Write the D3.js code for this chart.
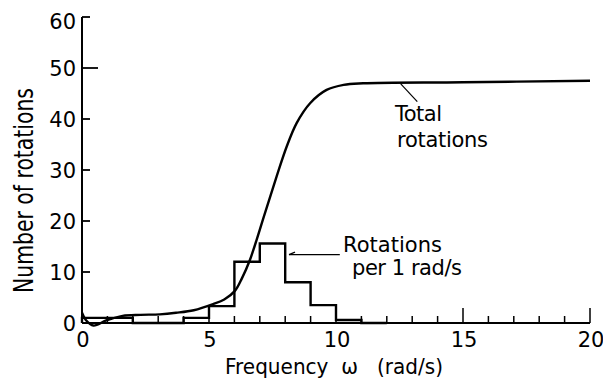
<!DOCTYPE html>
<html>
<head>
<meta charset="utf-8">
<script src="https://cdn.jsdelivr.net/npm/d3@7"></script>
<style>
  body { margin: 0; background: #fff; }
  text { font-family: "DejaVu Sans", sans-serif; fill: #000; }
</style>
</head>
<body>
<svg id="chart" width="603" height="380"></svg>
<script>
// histogram: rotations per 1 rad/s bin (bin start, count)
const binStarts = [0, 1, 2, 3, 4, 5, 6, 7, 8, 9, 10, 11];
const binCounts = [1, 1, 0, 0, 1, 3.3, 12, 15.6, 8, 3.5, 0.6, 0];

// cumulative curve
const curveW = [0, 0.15, 0.45, 0.95, 1.6, 2.3, 3.06, 3.7, 4.4, 5.16, 5.6, 6.02, 6.3, 6.61, 7.2, 7.66, 8.06, 8.45, 8.98, 9.63, 10.3, 11.07, 15, 20];
const curveN = [2.0, 0.6, -0.5, 0.5, 1.4, 1.6, 1.7, 2.0, 2.5, 3.7, 4.6, 6.3, 8.8, 12.35, 21.5, 28.7, 34.6, 39.2, 43.1, 45.7, 46.7, 47.0, 47.2, 47.5];

const xTickLabels = [0, 5, 10, 15, 20];
const yTickLabels = [0, 10, 20, 30, 40, 50, 60];

const svg = d3.select('#chart');

const x = d3.scaleLinear().domain([0, 20]).range([82, 590]);
const y = d3.scaleLinear().domain([0, 60]).range([323, 17]);

const g = svg.append('g');

// axes lines
g.append('line')
  .attr('x1', x(0)).attr('x2', x(0))
  .attr('y1', y(0)).attr('y2', y(60))
  .attr('stroke', '#000').attr('stroke-width', 2);
g.append('line')
  .attr('x1', x(0)).attr('x2', x(20))
  .attr('y1', y(0)).attr('y2', y(0))
  .attr('stroke', '#000').attr('stroke-width', 2);

// x ticks every 1 rad/s, longer at labels
g.selectAll('.xtick')
  .data(d3.range(1, 21))
  .enter().append('line')
  .attr('x1', d => x(d)).attr('x2', d => x(d))
  .attr('y1', y(0))
  .attr('y2', d => y(0) - (d % 5 === 0 ? 15 : 7))
  .attr('stroke', '#000').attr('stroke-width', 1.5);

// y ticks, inward
g.selectAll('.ytick')
  .data(yTickLabels.slice(1))
  .enter().append('line')
  .attr('x1', x(0))
  .attr('x2', d => x(0) + (d === 50 ? 16 : 8))
  .attr('y1', d => y(d)).attr('y2', d => y(d))
  .attr('stroke', '#000').attr('stroke-width', 1.8);

// tick labels
g.selectAll('.xlab')
  .data(xTickLabels)
  .enter().append('text')
  .attr('x', d => x(d) + 1)
  .attr('y', 347)
  .attr('text-anchor', 'middle')
  .attr('font-size', 21)
  .text(d => d);

g.selectAll('.ylab')
  .data(yTickLabels)
  .enter().append('text')
  .attr('x', 76)
  .attr('y', d => y(d) + (d === 60 ? 12 : 8))
  .attr('text-anchor', 'end')
  .attr('font-size', 21)
  .text(d => d);

// axis titles
g.append('text')
  .attr('x', 225).attr('y', 374)
  .attr('font-size', 22)
  .attr('xml:space', 'preserve')
  .attr('textLength', 218).attr('lengthAdjust', 'spacingAndGlyphs')
  .text('Frequency  \u03c9   (rad/s)');

g.append('text')
  .attr('transform', 'translate(33,190.5) rotate(-90)')
  .attr('text-anchor', 'middle')
  .attr('font-size', 26)
  .attr('textLength', 205).attr('lengthAdjust', 'spacingAndGlyphs')
  .text('Number of rotations');

// histogram outline
const stepPts = [[binStarts[0], 0]];
binStarts.forEach((b, i) => {
  stepPts.push([b, binCounts[i]]);
  stepPts.push([b + 1, binCounts[i]]);
});
stepPts.push([binStarts[binStarts.length - 1] + 1, 0]);

g.append('path')
  .datum(stepPts)
  .attr('fill', 'none')
  .attr('stroke', '#000')
  .attr('stroke-width', 2.4)
  .attr('d', d3.line().x(d => x(d[0])).y(d => y(d[1])));

// total rotations curve
g.append('path')
  .datum(curveW.map((w, i) => [w, curveN[i]]))
  .attr('fill', 'none')
  .attr('stroke', '#000')
  .attr('stroke-width', 2.4)
  .attr('d', d3.line().x(d => x(d[0])).y(d => y(d[1])).curve(d3.curveCatmullRom));

// annotations
g.append('line')
  .attr('x1', x(12.55)).attr('y1', y(46.9))
  .attr('x2', x(13.2)).attr('y2', y(43.4))
  .attr('stroke', '#000').attr('stroke-width', 1.2);
const ann = g.append('g').attr('font-size', 21).attr('lengthAdjust', 'spacingAndGlyphs');
ann.append('text').attr('x', 395).attr('y', 120.5).attr('textLength', 47).text('Total');
ann.append('text').attr('x', 397).attr('y', 147).attr('textLength', 91).text('rotations');

g.append('line')
  .attr('x1', x(8.15)).attr('y1', y(13.4))
  .attr('x2', x(10.15)).attr('y2', y(13.4))
  .attr('stroke', '#000').attr('stroke-width', 1.2);
g.append('path')
  .attr('d', `M${x(8.15)},${y(13.4)} l6,-2.5`)
  .attr('stroke', '#000').attr('stroke-width', 1.2).attr('fill', 'none');
ann.append('text').attr('x', 343).attr('y', 252).attr('textLength', 99).text('Rotations');
ann.append('text').attr('x', 352).attr('y', 275).attr('textLength', 110).text('per 1 rad/s');
</script>
</body>
</html>
